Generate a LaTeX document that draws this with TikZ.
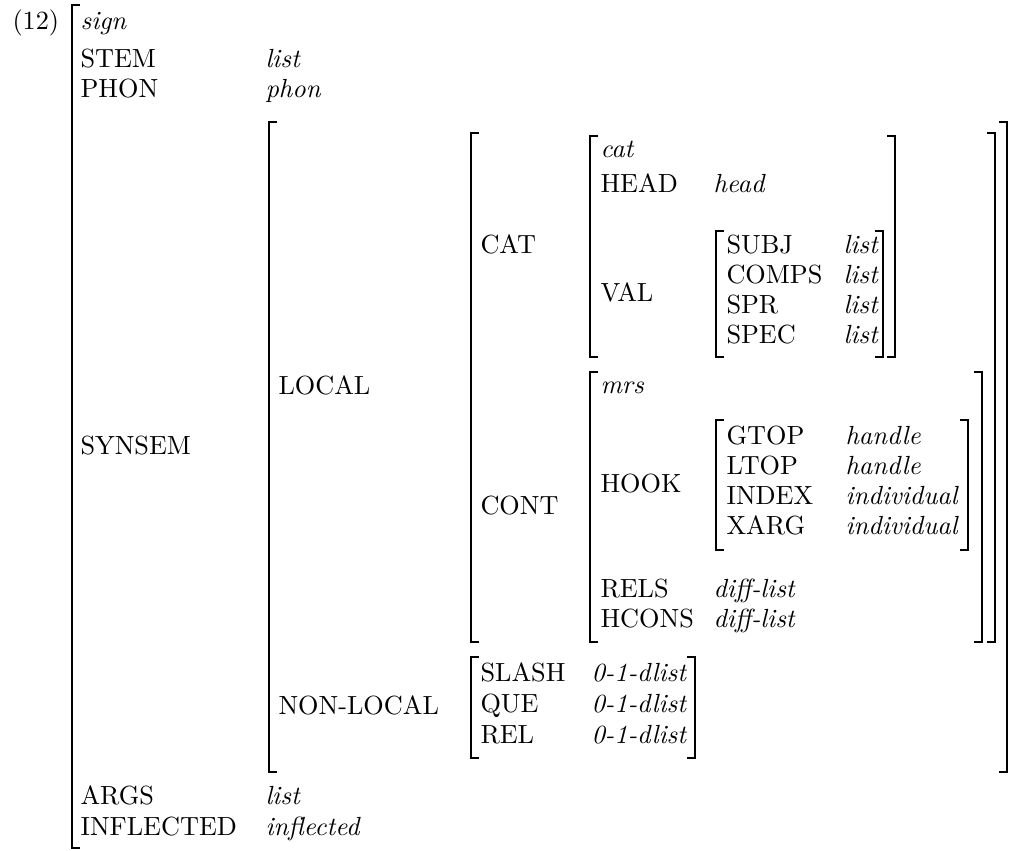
\documentclass[tikz,border=0pt]{standalone}
\usepackage{tikz}
\usetikzlibrary{positioning}

\begin{document}
\begin{tikzpicture}[
        x=0.381pt, y=-0.381pt,
        every node/.style={inner sep=0pt, anchor=base west},
        ]
        \tikzstyle{val} = [font=\itshape];
        \tikzstyle{brk} = [line width=0.7pt];
        \newcommand{\lbrk}[3]{\draw[brk] (#1+8,#2) -- (#1,#2) -- (#1,#3) -- (#1+8,#3);}
        \newcommand{\rbrk}[3]{\draw[brk] (#1-8,#2) -- (#1,#2) -- (#1,#3) -- (#1-8,#3);}
        \useasboundingbox (0,0) rectangle (1012,850);

        % sign
        \node (ex) at (12,29) {(12)};
        \node[val] (sign) at (80,29) {sign};
        \node (stem) at (80,67) {STEM};
        \node[val] (stemv) at (265,67) {list};
        \node (phon) at (80,97) {PHON};
        \node[val] (phonv) at (265,97) {phon};
        \node (synsem) at (80,454) {SYNSEM};
        \node (args) at (80,804) {ARGS};
        \node[val] (argsv) at (265,804) {list};
        \node (infl) at (80,835) {INFLECTED};
        \node[val] (inflv) at (265,835) {inflected};
        \lbrk{72}{5}{848}

        % synsem
        \node (local) at (278,394) {LOCAL};
        \node (nonlocal) at (278,714) {NON-LOCAL};
        \lbrk{269}{122}{772} \rbrk{1007}{122}{772}

        % local
        \node (cat) at (480,253) {CAT};
        \node (cont) at (480,514) {CONT};
        \lbrk{471}{133}{642} \rbrk{995}{133}{642}

        % cat
        \node[val] (cattype) at (600,157) {cat};
        \node (head) at (600,192) {HEAD};
        \node[val] (headv) at (713,192) {head};
        \node (val) at (600,301) {VAL};
        \lbrk{590}{136}{357} \rbrk{895}{136}{357}
        \foreach \a [count=\i] in {SUBJ,COMPS,SPR,SPEC} {
            \node (val-\i) at (726,{253+30*(\i-1)}) {\a};
            \node[val] (valv-\i) at (843,{253+30*(\i-1)}) {list};
        }
        \lbrk{716}{231}{357} \rbrk{883}{231}{357}

        % cont
        \node[val] (mrs) at (600,393) {mrs};
        \node (hook) at (600,492) {HOOK};
        \foreach \a/\v [count=\i] in {GTOP/handle,LTOP/handle,INDEX/individual,XARG/individual} {
            \node (hook-\i) at (726,{444+30*(\i-1)}) {\a};
            \node[val] (hookv-\i) at (845,{444+30*(\i-1)}) {\v};
        }
        \lbrk{716}{420}{550} \rbrk{968}{420}{550}
        \node (rels) at (600,597) {RELS};
        \node[val] (relsv) at (713,597) {diff-list};
        \node (hcons) at (600,627) {HCONS};
        \node[val] (hconsv) at (713,627) {diff-list};
        \lbrk{590}{372}{642} \rbrk{982}{372}{642}

        % non-local
        \foreach \a [count=\i] in {SLASH,QUE,REL} {
            \node (nl-\i) at (480,{681+31*(\i-1)}) {\a};
            \node[val] (nlv-\i) at (591,{681+31*(\i-1)}) {0-1-dlist};
        }
        \lbrk{471}{657}{758} \rbrk{695}{657}{758}
\end{tikzpicture}
\end{document}
